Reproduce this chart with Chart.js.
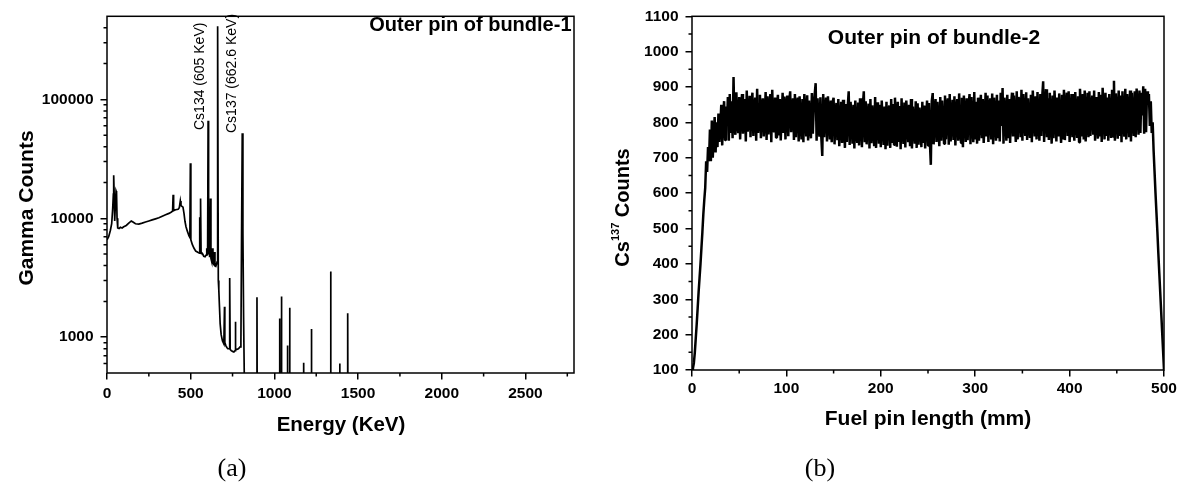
<!DOCTYPE html>
<html>
<head>
<meta charset="utf-8">
<script src="https://cdn.jsdelivr.net/npm/chart.js"></script>
<style>
  html, body { margin: 0; padding: 0; background: #fff; }
  #wrap { position: relative; width: 1182px; height: 484px; }
  canvas { position: absolute; top: 0; }
  #chartA { left: 0; }
  #chartB { left: 591px; }
</style>
</head>
<body>
<div id="wrap">
  <canvas id="chartA" width="591" height="484"></canvas>
  <canvas id="chartB" width="591" height="484"></canvas>
</div>
<script>
// ---- (a) gamma spectrum, outer pin of bundle-1 ----
var energy = [0, 10, 20, 28, 34, 38, 40, 43, 46, 50, 54, 57, 60, 64, 72, 80, 90, 100, 115, 130,
  145, 155, 170, 190, 210, 230, 250, 270, 290, 310, 330, 350, 370, 385, 392, 395, 398, 410, 425, 432,
  438, 442, 448, 454, 460, 466, 472, 480, 490, 495, 498, 501, 510, 520, 530, 545, 552, 554, 556, 558,
  560, 562, 570, 578, 586, 592, 596, 601, 604, 607, 610, 612, 614, 618, 621, 626, 630, 633, 638, 642,
  645, 650, 654, 658, 660, 662, 665, 668, 672, 676, 682, 690, 698, 702, 704, 710, 716, 722, 730, 733,
  736, 742, 750, 758, 765, 767, 769, 775, 785, 795, 800, 804, 808, 812, 816, 820, 824,
  894, 896, 898, 1030, 1032, 1034, 1040, 1042, 1044, 1076, 1078, 1080, 1089, 1091, 1093,
  1173, 1175, 1177, 1219, 1221, 1223, 1334, 1336, 1338, 1388, 1390, 1392, 1436, 1438, 1440, 2780];
var gammaCounts = [6600, 7000, 7900, 9000, 12000, 16000, 23000, 15500, 9500, 13000, 17000, 16500, 10000, 8300, 8200, 8400, 8300, 8500, 8700, 9100,
  9500, 9300, 9000, 8950, 9100, 9300, 9500, 9700, 9900, 10100, 10400, 10700, 11000, 11300, 11500, 15800, 11600, 11800, 11900, 12300,
  14000, 12800, 12600, 12400, 11000, 9400, 8500, 7800, 7100, 6900, 29000, 6600, 6000, 5600, 5300, 5150, 5100, 10200, 5300, 5200,
  14700, 5200, 5050, 4800, 4750, 4900, 5600, 4900, 66000, 5000, 9400, 4700, 4800, 14700, 4600, 4300, 5600, 4200, 4100, 5200,
  4000, 3950, 4100, 4300, 4500, 413000, 3000, 2500, 1800, 1300, 1050, 930, 880, 1800, 900, 850, 820, 800, 800, 3150,
  790, 770, 760, 750, 770, 1350, 780, 790, 800, 830, 900, 7500, 52000, 7500, 1500, 500, 100,
  100, 2170, 100, 100, 1440, 100, 100, 2200, 100, 100, 850, 100, 100, 1770, 100,
  100, 611, 100, 100, 1170, 100, 100, 3570, 100, 100, 600, 100, 100, 1590, 100, 100];
var energyTicks = [0, 500, 1000, 1500, 2000, 2500];
var energyMinor = [250, 750, 1250, 1750, 2250, 2750];
var gammaTicks = [1000, 10000, 100000];
var gammaMinor = [600, 700, 800, 900, 2000, 3000, 4000, 5000, 6000, 7000, 8000, 9000,
  20000, 30000, 40000, 50000, 60000, 70000, 80000, 90000, 200000, 300000, 400000];

// ---- (b) Cs137 counts along the fuel pin, one reading per mm (0..500) ----
var pinStep = 1;
var cs137Counts = [
  100, 105, 120, 150, 190, 230, 275, 320, 360, 400, 445, 490, 540, 580, 615, 690, 660, 730, 690, 780,
  690, 805, 700, 760, 815, 715, 800, 730, 825, 745, 790, 850, 735, 820, 860, 750, 845, 790, 872, 748,
  880, 770, 860, 755, 928, 790, 765, 885, 800, 770, 872, 752, 840, 880, 768, 826, 866, 746, 890, 774,
  810, 875, 758, 850, 884, 762, 836, 870, 748, 895, 770, 820, 878, 755, 845, 868, 760, 812, 886, 750,
  874, 766, 830, 880, 744, 892, 790, 772, 870, 757, 848, 878, 763, 866, 749, 820, 884, 770, 873, 752,
  840, 876, 761, 858, 888, 772, 830, 868, 750, 880, 758, 845, 870, 746, 874, 800, 752, 866, 744, 880,
  826, 760, 877, 749, 862, 795, 755, 883, 768, 842, 880, 911, 748, 868, 790, 760, 871, 757, 705, 880,
  758, 835, 870, 746, 874, 812, 752, 862, 744, 858, 870, 738, 820, 855, 750, 866, 733, 800, 858, 742,
  864, 790, 728, 852, 745, 846, 888, 736, 858, 805, 740, 850, 726, 862, 780, 742, 856, 735, 868, 810,
  730, 850, 888, 744, 860, 738, 812, 853, 726, 866, 741, 848, 790, 733, 872, 728, 857, 818, 740, 850,
  730, 862, 795, 736, 845, 724, 858, 734, 830, 848, 728, 866, 742, 852, 737, 870, 805, 731, 858, 745,
  846, 724, 868, 782, 739, 856, 729, 862, 812, 744, 850, 733, 866, 726, 845, 790, 740, 860, 728, 854,
  737, 842, 798, 730, 858, 742, 848, 726, 810, 862, 735, 855, 744, 680, 860, 883, 738, 825, 866, 745,
  858, 790, 733, 872, 748, 862, 815, 740, 876, 752, 840, 868, 737, 880, 746, 808, 864, 750, 874, 735,
  830, 866, 748, 882, 785, 742, 870, 730, 876, 812, 745, 868, 750, 845, 880, 738, 872, 796, 744, 886,
  752, 858, 740, 870, 748, 822, 878, 755, 866, 742, 800, 884, 760, 876, 745, 840, 868, 752, 882, 738,
  870, 810, 748, 878, 755, 862, 746, 884, 790, 897, 740, 870, 826, 748, 878, 755, 866, 742, 850, 884,
  760, 876, 800, 745, 888, 752, 872, 836, 758, 892, 748, 880, 815, 762, 885, 750, 868, 790, 756, 878,
  744, 890, 828, 760, 874, 752, 886, 805, 748, 880, 762, 872, 916, 745, 842, 894, 758, 868, 750, 884,
  810, 740, 876, 755, 890, 832, 746, 870, 760, 882, 798, 742, 878, 752, 892, 750, 846, 884, 762, 888,
  745, 820, 880, 758, 880, 748, 886, 806, 756, 874, 744, 895, 838, 760, 880, 752, 890, 746, 815, 884,
  758, 888, 762, 840, 876, 765, 890, 748, 872, 812, 754, 886, 760, 878, 745, 898, 830, 752, 884, 762,
  870, 748, 880, 800, 756, 892, 760, 918, 748, 882, 826, 754, 890, 762, 876, 744, 888, 808, 760, 895,
  752, 880, 836, 758, 890, 746, 884, 812, 762, 888, 758, 896, 840, 765, 890, 770, 884, 820, 902, 768,
  895, 772, 888, 850, 880, 790, 860, 770, 800, 720, 660, 600, 545, 490, 430, 375, 320, 265, 210, 155,
  100];
var pinTicks = [0, 100, 200, 300, 400, 500];
var pinMinor = [50, 150, 250, 350, 450];
var csTicks = [100, 200, 300, 400, 500, 600, 700, 800, 900, 1000, 1100];
var csMinor = [150, 250, 350, 450, 550, 650, 750, 850, 950, 1050];

var SANS = "'Liberation Sans', Arial, sans-serif";
var SERIF = "'Liberation Serif', 'Times New Roman', serif";

function frameAndMinor(chart, minorX, minorY) {
  var ctx = chart.ctx, a = chart.chartArea;
  var xs = chart.scales.x, ys = chart.scales.y;
  ctx.save();
  ctx.strokeStyle = '#000';
  ctx.lineWidth = 1.5;
  ctx.beginPath();
  minorX.forEach(function (v) {
    var px = xs.getPixelForValue(v);
    ctx.moveTo(px, a.bottom);
    ctx.lineTo(px, a.bottom + 3.5);
  });
  minorY.forEach(function (v) {
    var py = ys.getPixelForValue(v);
    ctx.moveTo(a.left, py);
    ctx.lineTo(a.left - 3.5, py);
  });
  ctx.stroke();
  ctx.strokeRect(a.left, a.top, a.right - a.left, a.bottom - a.top);
  ctx.restore();
}

function text(ctx, s, x, y, font, align, rot) {
  ctx.save();
  ctx.translate(x, y);
  if (rot) ctx.rotate(rot);
  ctx.font = font;
  ctx.fillStyle = '#000';
  ctx.textAlign = align;
  ctx.textBaseline = 'alphabetic';
  ctx.fillText(s, 0, 0);
  ctx.restore();
}

function axisOpts(min, max, ticks, width, height, pad, type) {
  return {
    type: type || 'linear',
    min: min,
    max: max,
    afterBuildTicks: function (s) { s.ticks = ticks.map(function (v) { return {value: v}; }); },
    afterFit: function (s) { if (width) s.width = width; if (height) s.height = height; },
    border: {display: false},
    grid: {drawOnChartArea: false, drawTicks: true, tickLength: 6.5, color: '#000', lineWidth: 1.5, tickWidth: 1.5},
    ticks: {
      autoSkip: false, maxRotation: 0, padding: pad, color: '#000',
      font: {family: SANS, weight: 'bold', size: 15.5},
      callback: function (v) { return String(v); }
    }
  };
}

var pluginA = {
  id: 'extrasA',
  afterDraw: function (chart) {
    var ctx = chart.ctx;
    frameAndMinor(chart, energyMinor, gammaMinor);
    text(ctx, 'Outer pin of bundle-1', 571.5, 31, 'bold 20px ' + SANS, 'right');
    text(ctx, 'Cs134 (605 KeV)', 204, 130, '14px ' + SANS, 'left', -Math.PI / 2);
    text(ctx, 'Cs137 (662.6 KeV)', 235.5, 133, '14px ' + SANS, 'left', -Math.PI / 2);
    text(ctx, 'Gamma Counts', 33, 208, 'bold 21px ' + SANS, 'center', -Math.PI / 2);
    text(ctx, 'Energy (KeV)', 341, 430.5, 'bold 20.5px ' + SANS, 'center');
    text(ctx, '(a)', 232, 476, '26px ' + SERIF, 'center');
  }
};

var pluginB = {
  id: 'extrasB',
  afterDraw: function (chart) {
    var ctx = chart.ctx;
    frameAndMinor(chart, pinMinor, csMinor);
    text(ctx, 'Outer pin of bundle-2', 343, 44, 'bold 21px ' + SANS, 'center');
    text(ctx, 'Fuel pin length (mm)', 337, 424.5, 'bold 21px ' + SANS, 'center');
    text(ctx, '(b)', 229, 476, '26px ' + SERIF, 'center');
    // y title with superscript: Cs^137 Counts
    ctx.save();
    ctx.translate(38, 207.5);
    ctx.rotate(-Math.PI / 2);
    ctx.fillStyle = '#000';
    ctx.textAlign = 'left';
    ctx.textBaseline = 'alphabetic';
    var big = 'bold 20px ' + SANS, small = 'bold 11px ' + SANS;
    ctx.font = big; var w1 = ctx.measureText('Cs').width, w3 = ctx.measureText(' Counts').width;
    ctx.font = small; var w2 = ctx.measureText('137').width;
    var x0 = -(w1 + w2 + w3) / 2;
    ctx.font = big; ctx.fillText('Cs', x0, 0);
    ctx.font = small; ctx.fillText('137', x0 + w1, -10);
    ctx.font = big; ctx.fillText(' Counts', x0 + w1 + w2, 0);
    ctx.restore();
  }
};

new Chart(document.getElementById('chartA'), {
  type: 'line',
  data: {
    datasets: [{
      data: energy.map(function (e, i) { return {x: e, y: gammaCounts[i]}; }),
      borderColor: '#000',
      borderWidth: 1.7,
      pointRadius: 0,
      tension: 0
    }]
  },
  options: {
    responsive: false,
    animation: false,
    layout: {padding: {left: 0, top: 12, right: 17, bottom: 0}},
    plugins: {legend: {display: false}, tooltip: {enabled: false}},
    scales: {
      x: axisOpts(0, 2790, energyTicks, 0, 111, 4.5),
      y: axisOpts(500, 500000, gammaTicks, 107, 0, 7, 'logarithmic')
    }
  },
  plugins: [pluginA]
});

new Chart(document.getElementById('chartB'), {
  type: 'line',
  data: {
    datasets: [{
      data: cs137Counts.map(function (c, i) { return {x: i * pinStep, y: c}; }),
      borderColor: '#000',
      borderWidth: 2.5,
      borderJoinStyle: 'bevel',
      pointRadius: 0,
      tension: 0
    }]
  },
  options: {
    responsive: false,
    animation: false,
    layout: {padding: {left: 0, top: 15, right: 18, bottom: 0}},
    plugins: {legend: {display: false}, tooltip: {enabled: false}},
    scales: {
      x: axisOpts(0, 500, pinTicks, 0, 114, 3),
      y: axisOpts(100, 1100, csTicks, 101, 0, 7)
    }
  },
  plugins: [pluginB]
});
</script>
</body>
</html>
